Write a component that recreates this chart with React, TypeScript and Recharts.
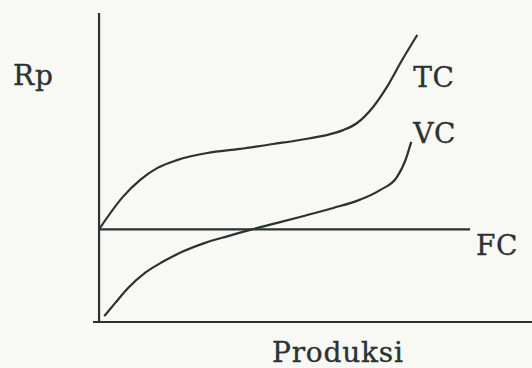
import React from 'react'
import { LineChart, Line, XAxis, YAxis, ReferenceLine, LabelList } from 'recharts'

// Kurva biaya: produksi (x) vs Rp (y)
const tcPoints = [
  { x: 0, y: 30 },
  { x: 5.5, y: 40.5 },
  { x: 9.5, y: 46 },
  { x: 13.4, y: 49.8 },
  { x: 18, y: 52.4 },
  { x: 25, y: 54.7 },
  { x: 32.6, y: 56 },
  { x: 40.2, y: 57.6 },
  { x: 46.4, y: 58.9 },
  { x: 53.4, y: 60.8 },
  { x: 56.4, y: 62.1 },
  { x: 59.6, y: 64.4 },
  { x: 63.3, y: 69.6 },
  { x: 66.5, y: 76.1 },
  { x: 70, y: 84.8 },
  { x: 73.5, y: 92.9 },
]

const vcPoints = [
  { x: 1.2, y: 1.9 },
  { x: 3.7, y: 6.1 },
  { x: 6.7, y: 11 },
  { x: 10.6, y: 15.9 },
  { x: 14.6, y: 19.4 },
  { x: 19.2, y: 22.7 },
  { x: 24.5, y: 25.6 },
  { x: 29.8, y: 27.8 },
  { x: 34.9, y: 29.8 },
  { x: 40.7, y: 31.9 },
  { x: 46.4, y: 34 },
  { x: 54.1, y: 36.9 },
  { x: 60.3, y: 39.6 },
  { x: 64.9, y: 42.7 },
  { x: 68.8, y: 46.9 },
  { x: 70.7, y: 52.1 },
  { x: 72.1, y: 58.3 },
]

const fcPoints = [
  { x: 0, y: 30 },
  { x: 85.7, y: 30 },
]

const yLabel = 'Rp'
const xLabel = 'Produksi'

const INK = '#2b3232'
const FONT = '"DejaVu Serif", serif'

// label hanya di titik terakhir kurva
const endLabel = (text: string, last: number, dx: number, dy: number) => (props: any) => {
  if (props.index !== last) return null
  return (
    <text
      x={props.x + dx}
      y={props.y + dy}
      fill={INK}
      stroke={INK}
      strokeWidth={0.35}
      fontFamily={FONT}
      fontSize={28}
      letterSpacing={0.6}
    >
      {text}
    </text>
  )
}

export default function App() {
  return (
    <div style={{ position: 'absolute', left: 0, top: 0, width: 532, height: 368, background: '#f8f8f5' }}>
      <LineChart width={532} height={368} margin={{ top: 13, right: 0, left: 93, bottom: 46 }}>
        <XAxis type="number" dataKey="x" domain={[-1.4, 100]} allowDataOverflow hide />
        <YAxis type="number" dataKey="y" domain={[0, 100]} allowDataOverflow hide />
        <ReferenceLine
          x={0}
          stroke={INK}
          strokeWidth={2.2}
          label={(p: any) => (
            <text
              x={p.viewBox.x - 86}
              y={p.viewBox.y + 72}
              fill={INK}
              stroke={INK}
              strokeWidth={0.35}
              fontFamily={FONT}
              fontSize={28}
              letterSpacing={0.8}
            >
              {yLabel}
            </text>
          )}
        />
        <ReferenceLine
          y={0}
          stroke={INK}
          strokeWidth={2.2}
          label={(p: any) => (
            <text
              x={p.viewBox.x + 179}
              y={p.viewBox.y + 40}
              fill={INK}
              stroke={INK}
              strokeWidth={0.35}
              fontFamily={FONT}
              fontSize={28}
              letterSpacing={0.8}
            >
              {xLabel}
            </text>
          )}
        />
        <Line data={fcPoints} dataKey="y" type="linear" stroke={INK} strokeWidth={2.2} dot={false} isAnimationActive={false}>
          <LabelList dataKey="y" content={endLabel('FC', fcPoints.length - 1, 6, 26)} />
        </Line>
        <Line data={tcPoints} dataKey="y" type="monotone" stroke={INK} strokeWidth={2.2} dot={false} isAnimationActive={false}>
          <LabelList dataKey="y" content={endLabel('TC', tcPoints.length - 1, -4, 52)} />
        </Line>
        <Line data={vcPoints} dataKey="y" type="monotone" stroke={INK} strokeWidth={2.2} dot={false} isAnimationActive={false}>
          <LabelList dataKey="y" content={endLabel('VC', vcPoints.length - 1, 2, 1)} />
        </Line>
      </LineChart>
    </div>
  )
}
